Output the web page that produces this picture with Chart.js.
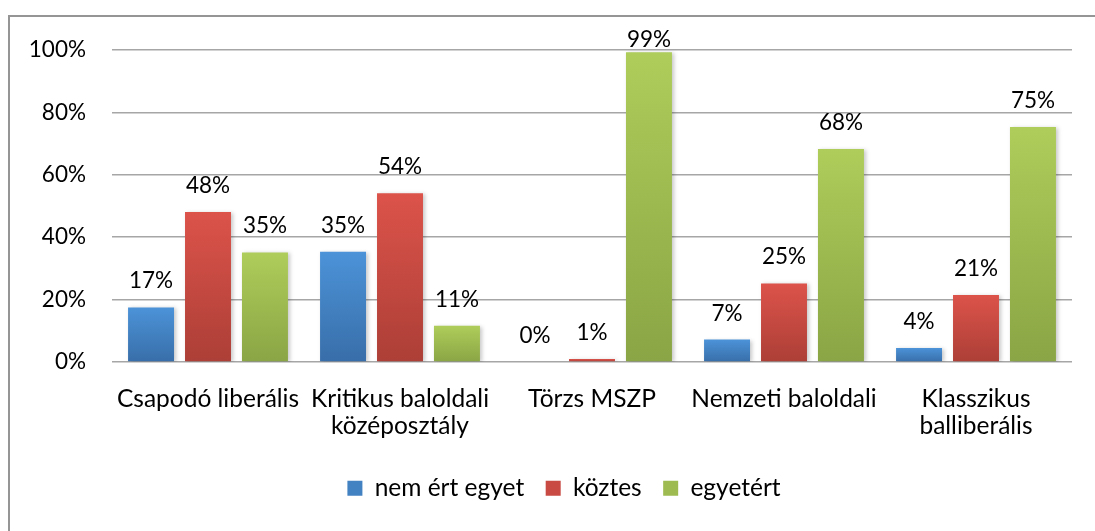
<!DOCTYPE html>
<html><head><meta charset="utf-8">
<script src="https://cdn.jsdelivr.net/npm/chart.js@4"></script>
<style>
html,body{margin:0;padding:0;background:#fff;overflow:hidden;width:1095px;height:531px;}
#frame{position:absolute;left:8px;top:15px;width:1200px;height:600px;border-left:2px solid #959595;border-top:2px solid #959595;}
#wrap{position:absolute;left:10px;top:17px;width:1104px;height:514px;}
</style></head>
<body>
<div id="frame"></div>
<div id="wrap"><canvas id="c" width="1104" height="514"></canvas></div>
<script>
const categories = [
  'Csapodó liberális',
  ['Kritikus baloldali', 'középosztály'],
  'Törzs MSZP',
  'Nemzeti baloldali',
  ['Klasszikus', 'balliberális']
];
const seriesNames = ['nem ért egyet', 'köztes', 'egyetért'];
const nemErtEgyet = [17.5, 35.3, 0, 7.2, 4.5];
const koztes = [48.1, 54.1, 1.0, 25.2, 21.5];
const egyetert = [35.1, 11.6, 99.3, 68.3, 75.3];
const valueLabels = [
  ['17%', '35%', '0%', '7%', '4%'],
  ['48%', '54%', '1%', '25%', '21%'],
  ['35%', '11%', '99%', '68%', '75%']
];
const yTicks = [0, 20, 40, 60, 80, 100];

const FONT = 'Lato, "Open Sans", sans-serif';
const FS_NUM = 22.5;
const FS_TXT = 24.5;
const PAD = { top: 33, right: 42, left: 0, bottom: 20.5 };
const LEGEND_SHIFT = 23;
const palettes = [
  {top:'#4c93d8', bottom:'#386ea9', mid:'#4281c2'},
  {top:'#dc534a', bottom:'#ac3f37', mid:'#c84a42'},
  {top:'#aecd5a', bottom:'#8aa545', mid:'#9dbb50'}
];
function grad(idx){
  return function(ctx){
    const p = palettes[idx];
    const chart = ctx.chart;
    if (ctx.type !== 'data' || !chart.chartArea || !chart.scales.y) return p.mid;
    const v = ctx.raw;
    const y = chart.scales.y;
    const t = y.getPixelForValue(v), b = y.getPixelForValue(0);
    if (!isFinite(t) || !isFinite(b) || Math.abs(b - t) < 1) return p.mid;
    const g = chart.ctx.createLinearGradient(0, t, 0, b);
    g.addColorStop(0, p.top);
    g.addColorStop(1, p.bottom);
    return g;
  };
}
const seriesValues = [nemErtEgyet, koztes, egyetert];

const legendShiftPlugin = {
  id: 'legendShift',
  afterLayout(chart){
    if (chart.legend) { chart.legend.left += LEGEND_SHIFT; chart.legend.right += LEGEND_SHIFT; }
  }
};
const shadowPlugin = {
  id: 'shadow',
  beforeDatasetsDraw(chart){
    const c = chart.ctx; c.save();
    c.shadowColor = 'rgba(0,0,0,0.22)'; c.shadowBlur = 4; c.shadowOffsetX = 2; c.shadowOffsetY = 1;
  },
  afterDatasetsDraw(chart){ chart.ctx.restore(); }
};
const labelPlugin = {
  id: 'valueLabels',
  afterDatasetsDraw(chart){
    const c = chart.ctx;
    c.save();
    c.font = FS_NUM + 'px ' + FONT;
    c.fillStyle = '#000';
    c.textAlign = 'center';
    c.textBaseline = 'alphabetic';
    const minY = chart.chartArea.top - 3;
    chart.data.datasets.forEach((ds, di) => {
      chart.getDatasetMeta(di).data.forEach((bar, i) => {
        c.fillText(valueLabels[di][i], bar.x, Math.max(bar.y - 19, minY));
      });
    });
    c.restore();
  }
};

new Chart(document.getElementById('c'), {
  type: 'bar',
  data: {
    labels: categories,
    datasets: seriesValues.map((vals, i) => ({
      label: seriesNames[i],
      data: vals,
      backgroundColor: grad(i),
      borderWidth: 0,
      categoryPercentage: 0.89,
      barPercentage: 0.807
    }))
  },
  options: {
    responsive: false,
    animation: false,
    devicePixelRatio: 1,
    layout: { padding: PAD },
    plugins: {
      tooltip: { enabled: false },
      legend: {
        position: 'bottom',
        labels: {
          font: { family: FONT, size: FS_TXT },
          color: '#000',
          boxWidth: 15,
          boxHeight: 15,
          padding: 21.5,
          generateLabels(chart){
            return chart.data.datasets.map((ds, i) => ({
              text: ds.label,
              fillStyle: palettes[i].mid,
              strokeStyle: palettes[i].mid,
              lineWidth: 0,
              hidden: false,
              datasetIndex: i
            }));
          }
        }
      }
    },
    scales: {
      x: {
        grid: { display: false, drawTicks: false },
        border: { display: false },
        ticks: { font: { family: FONT, size: FS_TXT, lineHeight: 1.1 }, color: '#000', padding: 24, maxRotation: 0, autoSkip: false },
        afterFit(scale){
          const lh = scale.chart.legend ? scale.chart.legend.height : 60;
          scale.height = 514 - PAD.bottom - lh - 345;
        }
      },
      y: {
        min: 0, max: 100,
        afterBuildTicks(scale){ scale.ticks = yTicks.map(v => ({ value: v })); },
        grid: { color: '#a6a6a6', lineWidth: 1.5, drawTicks: false },
        border: { display: false },
        ticks: { font: { family: FONT, size: FS_NUM }, color: '#000', padding: 26, callback: v => v + '%' },
        afterFit(scale){ scale.width = 102 - PAD.left; scale.paddingTop = 6; scale.paddingBottom = 6; }
      }
    }
  },
  plugins: [legendShiftPlugin, shadowPlugin, labelPlugin]
});
</script>
</body></html>
